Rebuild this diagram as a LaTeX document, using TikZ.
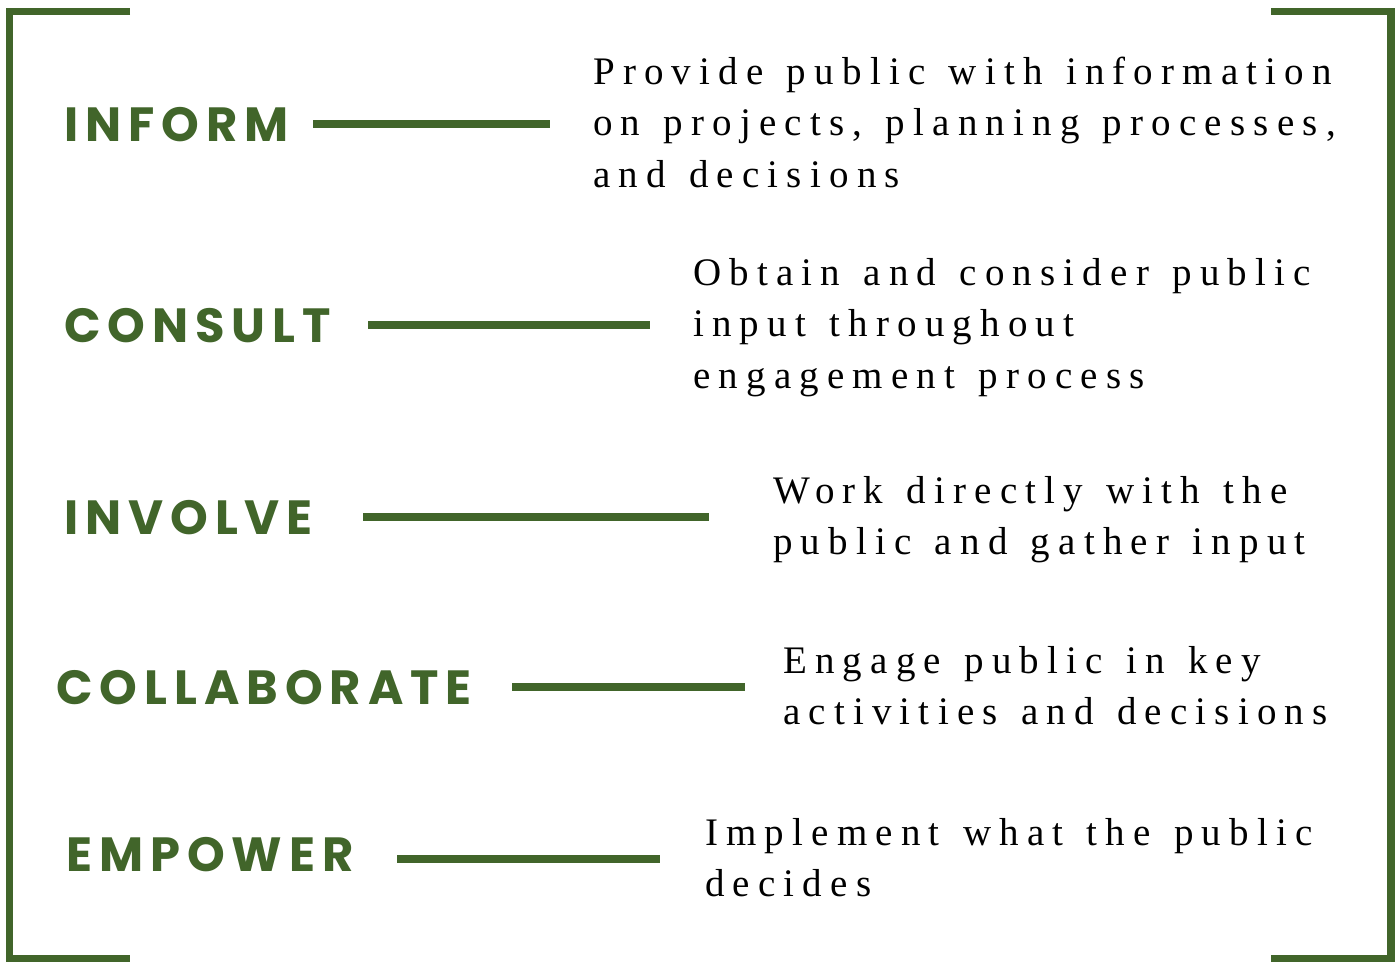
\documentclass[tikz,border=0pt]{standalone}
\usepackage{fontspec}
\setmainfont{Liberation Serif}
\newfontfamily\descfont[LetterSpace=21,WordSpace=1.3]{Liberation Serif}
\newfontfamily\labfont[LetterSpace=14.5]{Poppins}
\definecolor{brgreen}{RGB}{65,101,42}
\tikzset{
  bracket/.style={draw=brgreen, line width=7.5pt, line join=miter},
  linkline/.style={draw=brgreen, line width=8pt},
  lab/.style={anchor=base west, inner sep=0pt, text=brgreen, font=\labfont\bfseries\fontsize{48}{52}\selectfont},
  desc/.style={anchor=base west, inner sep=0pt, text=black, font=\descfont\fontsize{39}{51.5}\selectfont},
}
\newcommand{\desctext}[1]{\parbox[t]{780pt}{\raggedright #1}}
\begin{document}
\begin{tikzpicture}[x=1pt,y=-1pt]
\useasboundingbox (0,0) rectangle (1400,961);
% brackets
\coordinate (tl1) at (130,11.5);
\coordinate (tl2) at (9.5,11.5);
\coordinate (tl3) at (9.5,958.5);
\coordinate (tl4) at (130,958.5);
\coordinate (tr1) at (1271,11.5);
\coordinate (tr2) at (1391,11.5);
\coordinate (tr3) at (1391,958.5);
\coordinate (tr4) at (1271,958.5);
\draw[bracket] (tl1) -- (tl2) -- (tl3) -- (tl4);
\draw[bracket] (tr1) -- (tr2) -- (tr3) -- (tr4);
% labels
\node[lab] (l1) at (64,141) {INFORM};
\node[lab] (l2) at (64,342) {CONSULT};
\node[lab] (l3) at (64,534) {INVOLVE};
\node[lab] (l4) at (56,704) {COLLABORATE};
\node[lab] (l5) at (66,871) {EMPOWER};
% descriptions
\node[desc] (d1) at (593,84) {\desctext{Provide public with information\\on projects, planning processes,\\and decisions}};
\node[desc] (d2) at (693,285) {\desctext{Obtain and consider public\\input throughout\\engagement process}};
\node[desc] (d3) at (773,503) {\desctext{Work directly with the\\public and gather input}};
\node[desc] (d4) at (783,673) {\desctext{Engage public in key\\activities and decisions}};
\node[desc] (d5) at (705,845) {\desctext{Implement what the public\\decides}};
% connector ends
\coordinate (a1) at (313,124);  \coordinate (b1) at (550,124);
\coordinate (a2) at (368,325);  \coordinate (b2) at (650,325);
\coordinate (a3) at (363,517);  \coordinate (b3) at (709,517);
\coordinate (a4) at (512,687);  \coordinate (b4) at (745,687);
\coordinate (a5) at (397,859);  \coordinate (b5) at (660,859);
\draw[linkline] (a1) -- (b1);
\draw[linkline] (a2) -- (b2);
\draw[linkline] (a3) -- (b3);
\draw[linkline] (a4) -- (b4);
\draw[linkline] (a5) -- (b5);
\end{tikzpicture}
\end{document}
